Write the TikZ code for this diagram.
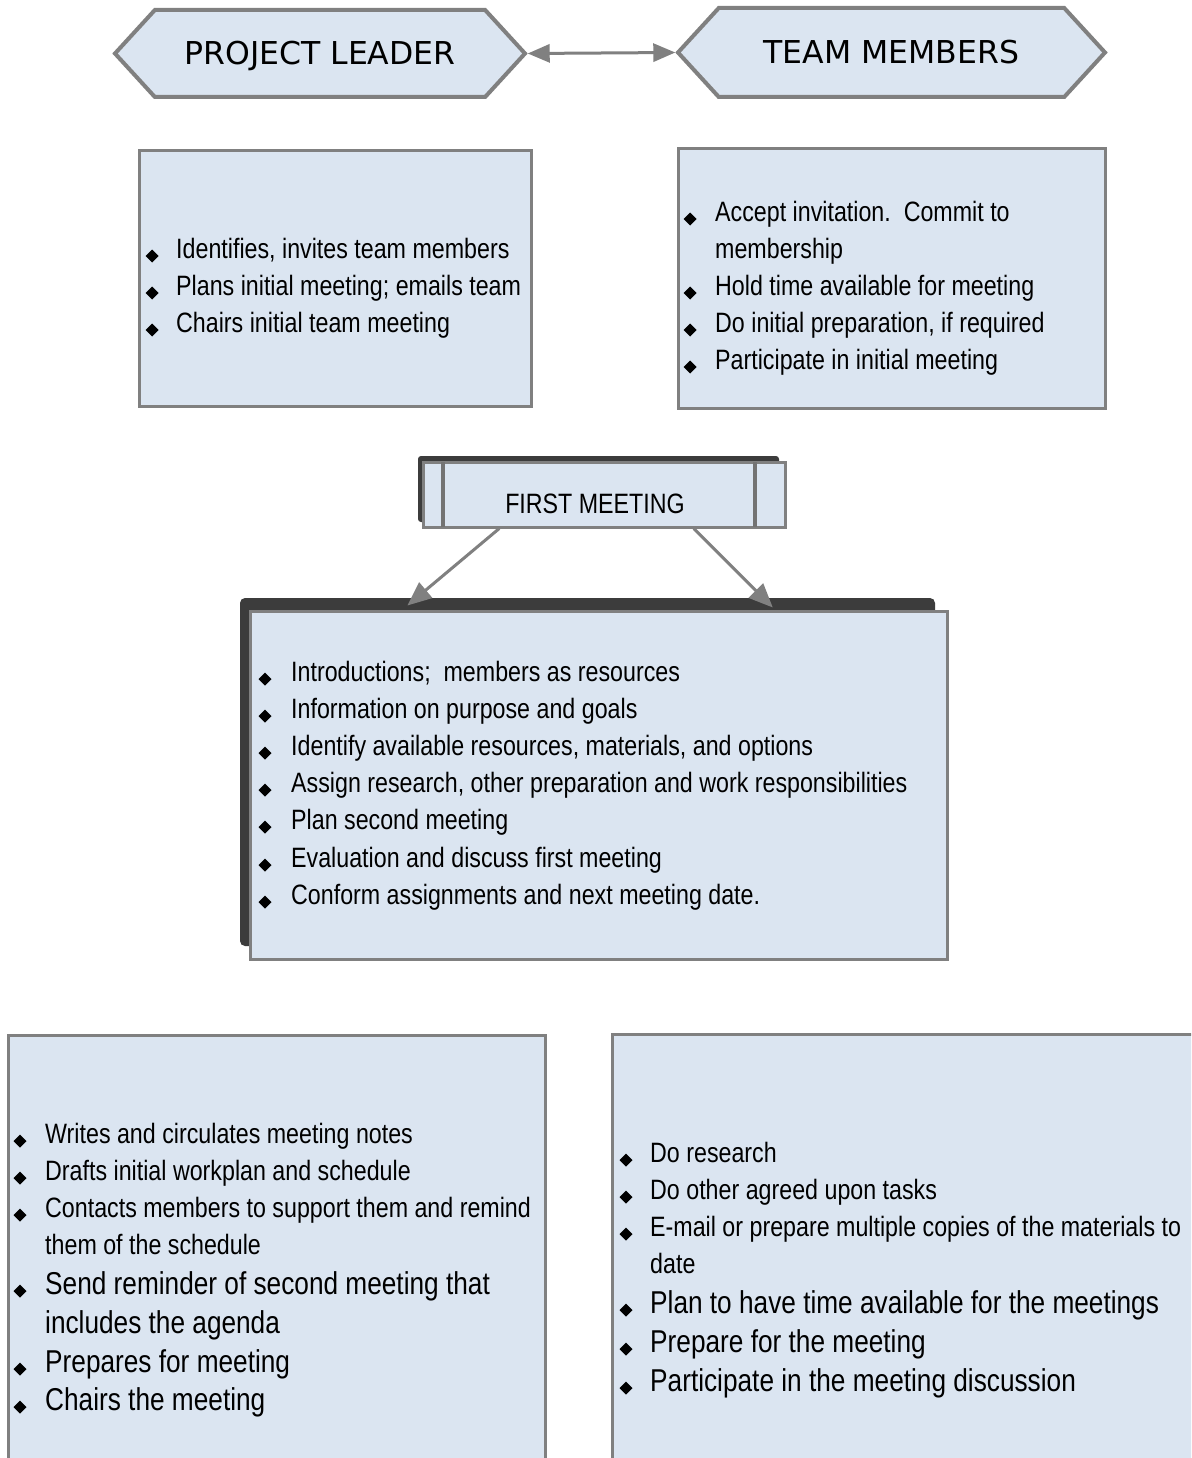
\documentclass[tikz,border=0pt]{standalone}
\usepackage{fontspec}
\usetikzlibrary{arrows.meta,shapes.symbols,calc}
\newfontfamily\narrowsans[FakeStretch=0.83]{Liberation Sans}
\newfontfamily\headsans{DejaVu Sans}
\definecolor{boxfill}{HTML}{DBE5F1}
\definecolor{edge}{HTML}{808080}
\definecolor{darkrim}{HTML}{3C3C3C}

% bulleted line: name, bullet x, text x, line centre y, style, text
\newcommand\bitem[6]{%
  \fill (#2-6.5,#4+8) -- (#2,#4+1.5) -- (#2+6.5,#4+8) -- (#2,#4+14.5) -- cycle;
  \node[#5] (#1) at (#3,#4) {#6};}
% continuation line without bullet: name, text x, line centre y, style, text
\newcommand\citem[5]{\node[#4] (#1) at (#2,#3) {#5};}

\tikzset{
  hexa/.style={signal, signal to=west and east, signal pointer angle=95,
    draw=edge, line width=4, fill=boxfill, inner sep=0,
    text height=22.6pt, text depth=0pt,
    font=\headsans\fontsize{31.5}{32}\selectfont},
  panel/.style={draw=edge, line width=3, fill=boxfill, inner sep=0},
  smalltxt/.style={anchor=base west, inner sep=0, yshift=-10pt,
    font=\narrowsans\fontsize{28}{34}\selectfont},
  largetxt/.style={anchor=base west, inner sep=0, yshift=-11.5pt,
    font=\narrowsans\fontsize{31.6}{38}\selectfont},
  link/.style={draw=edge, line width=3,
    arrows={-Triangle[length=24pt,width=20pt]}},
}

\begin{document}
\begin{tikzpicture}[x=1pt,y=-1pt]
\clip (0,0) rectangle (1191,1458);
\fill[white] (0,0) rectangle (1191,1458);

% role headers
\node[hexa, minimum width=410, minimum height=87] (pl) at (320,53.5) {PROJECT LEADER};
\node[hexa, minimum width=427, minimum height=89] (tm) at (891.5,52.5) {TEAM MEMBERS};
\draw[draw=edge, line width=3,
  arrows={Triangle[length=22pt,width=18pt]-Triangle[length=22pt,width=18pt]}]
  (pl.east) -- (tm.west);

% preparation duties
\node[panel, minimum width=392, minimum height=255] (plbox) at (335,278.5) {};
\node[panel, minimum width=427, minimum height=259] (tmbox) at (891.5,278.5) {};

\bitem{pl1}{152}{176}{248}{smalltxt}{Identifies, invites team members}
\bitem{pl2}{152}{176}{285}{smalltxt}{Plans initial meeting; emails team}
\bitem{pl3}{152}{176}{322}{smalltxt}{Chairs initial team meeting}

\bitem{tm1}{690}{715}{211}{smalltxt}{Accept invitation.\ \ Commit to}
\citem{tm1b}{715}{248}{smalltxt}{membership}
\bitem{tm2}{690}{715}{285}{smalltxt}{Hold time available for meeting}
\bitem{tm3}{690}{715}{322}{smalltxt}{Do initial preparation, if required}
\bitem{tm4}{690}{715}{359}{smalltxt}{Participate in initial meeting}

% first meeting banner
\fill[darkrim, rounded corners=3] (418,456) rectangle (779,522);
\node[panel, minimum width=362, minimum height=65] (fm) at (604,494.5) {};
\draw[black!55, line width=4] (443,462) -- (443,527) (755,462) -- (755,527);
\node[inner sep=0, font=\narrowsans\fontsize{28}{28}\selectfont] (fmt) at (595,504) {FIRST MEETING};

% first meeting agenda
\fill[darkrim, rounded corners=5] (240,598) rectangle (935,946);
\node[panel, minimum width=697, minimum height=348] (agenda) at (598.5,785) {};

\draw[link] ($(fm.south west)!0.213!(fm.south east)$) -- ($(agenda.north west)!0.227!(agenda.north east)+(0,-4)$);
\draw[link] ($(fm.south west)!0.746!(fm.south east)$) -- ($(agenda.north west)!0.749!(agenda.north east)+(0,-2)$);

\bitem{ag1}{265}{291}{671}{smalltxt}{Introductions;\ \ members as resources}
\bitem{ag2}{265}{291}{708}{smalltxt}{Information on purpose and goals}
\bitem{ag3}{265}{291}{745}{smalltxt}{Identify available resources, materials, and options}
\bitem{ag4}{265}{291}{782}{smalltxt}{Assign research, other preparation and work responsibilities}
\bitem{ag5}{265}{291}{819}{smalltxt}{Plan second meeting}
\bitem{ag6}{265}{291}{857}{smalltxt}{Evaluation and discuss first meeting}
\bitem{ag7}{265}{291}{894}{smalltxt}{Conform assignments and next meeting date.}

% follow-up duties
\node[panel, minimum width=537, minimum height=445] (plnext) at (276.5,1257.5) {};
\node[panel, minimum width=588, minimum height=446] (tmnext) at (906,1257) {};

\bitem{pn1}{20}{45}{1133}{smalltxt}{Writes and circulates meeting notes}
\bitem{pn2}{20}{45}{1170}{smalltxt}{Drafts initial workplan and schedule}
\bitem{pn3}{20}{45}{1207}{smalltxt}{Contacts members to support them and remind}
\citem{pn3b}{45}{1244}{smalltxt}{them of the schedule}
\bitem{pn4}{20}{45}{1283}{largetxt}{Send reminder of second meeting that}
\citem{pn4b}{45}{1322}{largetxt}{includes the agenda}
\bitem{pn5}{20}{45}{1361}{largetxt}{Prepares for meeting}
\bitem{pn6}{20}{45}{1399}{largetxt}{Chairs the meeting}

\bitem{tn1}{626}{650}{1152}{smalltxt}{Do research}
\bitem{tn2}{626}{650}{1189}{smalltxt}{Do other agreed upon tasks}
\bitem{tn3}{626}{650}{1226}{smalltxt}{E-mail or prepare multiple copies of the materials to}
\citem{tn3b}{650}{1263}{smalltxt}{date}
\bitem{tn4}{626}{650}{1302}{largetxt}{Plan to have time available for the meetings}
\bitem{tn5}{626}{650}{1341}{largetxt}{Prepare for the meeting}
\bitem{tn6}{626}{650}{1380}{largetxt}{Participate in the meeting discussion}
\end{tikzpicture}
\end{document}
